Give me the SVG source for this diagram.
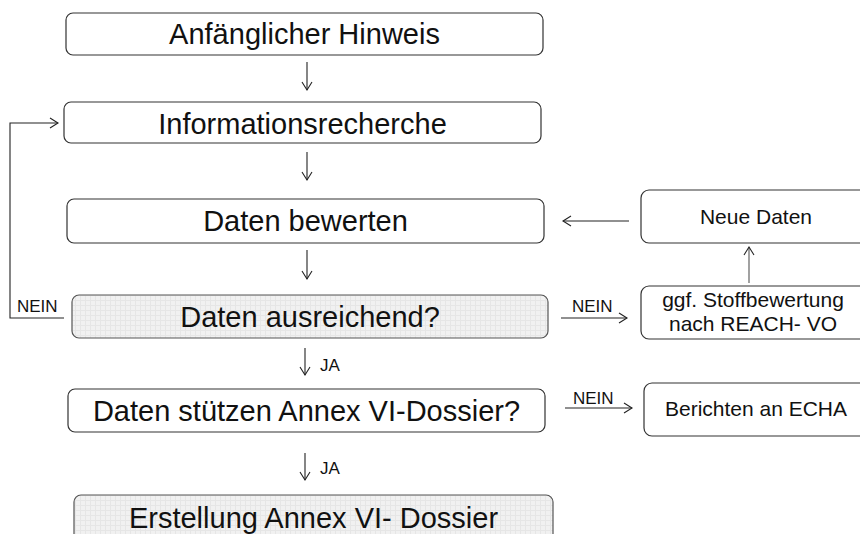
<svg xmlns="http://www.w3.org/2000/svg" width="860" height="534" viewBox="0 0 860 534">
<style>
.box{fill:#fff;stroke:#333;stroke-width:1.2}
.gbox{fill:url(#grid);stroke:#555;stroke-width:1.2}
.big{font-family:"Liberation Sans",Arial,sans-serif;font-size:29px;fill:#111;text-anchor:middle}
.mid{font-family:"Liberation Sans",Arial,sans-serif;font-size:21px;fill:#111;text-anchor:middle}
.lbl{font-family:"Liberation Sans",Arial,sans-serif;font-size:17px;fill:#111}
.con{fill:none;stroke:#222;stroke-width:1.1}
.ah{fill:none;stroke:#222;stroke-width:1.1}
</style>
<defs>
<pattern id="grid" width="5" height="5" patternUnits="userSpaceOnUse">
<rect width="5" height="5" fill="#f1f1f1"/>
<path d="M0 0.5H5M0.5 0V5" stroke="#e6e6e6" stroke-width="1"/>
</pattern>
<marker id="arr" markerWidth="12" markerHeight="12" refX="10" refY="6" orient="auto" markerUnits="userSpaceOnUse">
<path d="M2 1 L10 6 L2 11" class="ah"/>
</marker>
</defs>
<g id="n1"><rect class="box" x="66" y="13" width="477" height="42" rx="7"/><text class="big" x="304.5" y="44">Anfänglicher Hinweis</text></g>
<g id="n2"><rect class="box" x="64" y="102" width="477" height="41" rx="7"/><text class="big" x="302.5" y="134">Informationsrecherche</text></g>
<g id="n3"><rect class="box" x="67" y="199" width="477" height="44" rx="7"/><text class="big" x="305.5" y="231">Daten bewerten</text></g>
<g id="n4"><rect class="gbox" x="72" y="295" width="476" height="43" rx="7"/><text class="big" x="310" y="327">Daten ausreichend?</text></g>
<g id="n5"><rect class="box" x="68" y="389" width="477" height="43" rx="7"/><text class="big" x="306.5" y="421">Daten stützen Annex VI-Dossier?</text></g>
<g id="n6"><rect class="gbox" x="74" y="495" width="479" height="50" rx="7"/><text class="big" x="313.5" y="528">Erstellung Annex VI- Dossier</text></g>
<g id="n7"><rect class="box" x="641" y="190" width="240" height="53" rx="8"/><text class="mid" x="756" y="224">Neue Daten</text></g>
<g id="n8"><rect class="box" x="641" y="286" width="240" height="53" rx="8"/><text class="mid" x="753" y="307">ggf. Stoffbewertung</text><text class="mid" x="753" y="331">nach REACH- VO</text></g>
<g id="n9"><rect class="box" x="644" y="383" width="240" height="53" rx="8"/><text class="mid" x="756" y="416">Berichten an ECHA</text></g>
<g id="connectors">
<line class="con" x1="307" y1="62" x2="307" y2="90" marker-end="url(#arr)"/>
<line class="con" x1="307" y1="152" x2="307" y2="180" marker-end="url(#arr)"/>
<line class="con" x1="307" y1="250" x2="307" y2="279" marker-end="url(#arr)"/>
<line class="con" x1="305" y1="348" x2="305" y2="375" marker-end="url(#arr)"/>
<line class="con" x1="305" y1="453" x2="305" y2="480" marker-end="url(#arr)"/>
<polyline class="con" points="64,318 10,318 10,123 58,123" marker-end="url(#arr)"/>
<line class="con" x1="561" y1="318" x2="627" y2="318" marker-end="url(#arr)"/>
<line class="con" x1="565" y1="408" x2="632" y2="408" marker-end="url(#arr)"/>
<line class="con" x1="629" y1="221" x2="563" y2="221" marker-end="url(#arr)"/>
<line class="con" x1="749" y1="283" x2="749" y2="247" marker-end="url(#arr)" style="stroke:#555"/>
<text class="lbl" x="17" y="312">NEIN</text>
<text class="lbl" x="572" y="312">NEIN</text>
<text class="lbl" x="573" y="404">NEIN</text>
<text class="lbl" x="320" y="371">JA</text>
<text class="lbl" x="320" y="474">JA</text>
</g>
</svg>
